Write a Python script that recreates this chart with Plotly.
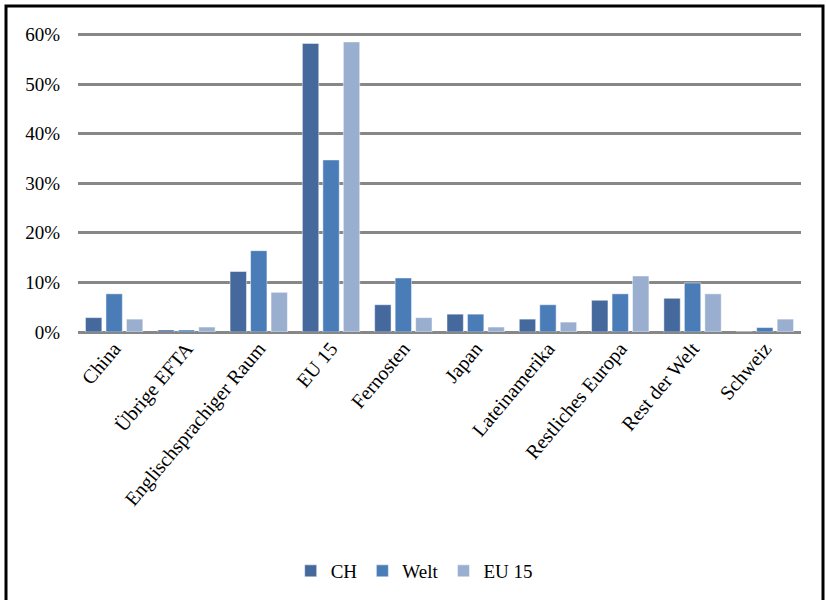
import plotly.graph_objects as go

categories = ["China", "Übrige EFTA", "Englischsprachiger Raum", "EU 15", "Fernosten",
              "Japan", "Lateinamerika", "Restliches Europa", "Rest der Welt", "Schweiz"]
ch = [2.9, 0.4, 12.2, 58.2, 5.5, 3.6, 2.6, 6.4, 6.8, 0.0]
welt = [7.7, 0.4, 16.4, 34.7, 10.9, 3.6, 5.5, 7.7, 9.9, 0.9]
eu15 = [2.6, 1.0, 8.0, 58.5, 2.9, 1.0, 2.0, 11.3, 7.7, 2.6]
y_ticks = [0, 10, 20, 30, 40, 50, 60]

series = [("CH", ch, "#45699C"), ("Welt", welt, "#4A7DB8"), ("EU 15", eu15, "#9AAFCF")]
SERIF = "Liberation Serif"

fig = go.Figure()
for name, vals, col in series:
    fig.add_trace(go.Bar(x=categories, y=vals, name=name,
                         marker=dict(color=col, line=dict(color="rgba(255,255,255,0.6)", width=0.8))))

W, H = 826, 600
L, R, T, B = 78, 801, 32, 333
fig.update_layout(
    width=W, height=H,
    margin=dict(l=L, r=W - R, t=T, b=H - B),
    paper_bgcolor="white", plot_bgcolor="white",
    barmode="group", bargap=0.15, bargroupgap=0.2,
    font=dict(family=SERIF, color="black", size=18),
    showlegend=True,
    legend=dict(orientation="h", x=0.465, xanchor="center", y=(B - 571) / (B - T), yanchor="middle",
                font=dict(size=19, family=SERIF), itemwidth=30, traceorder="normal"),
    xaxis=dict(tickangle=-50, tickfont=dict(size=20, family=SERIF),
               showgrid=False, showline=False, ticks=""),
    yaxis=dict(range=[0, 60.5], tickvals=y_ticks, ticktext=[f"{v}%" for v in y_ticks],
               showgrid=True, gridcolor="#878787", gridwidth=2.5, zeroline=True,
               zerolinecolor="#878787", zerolinewidth=2.5, ticks="", ticklabelstandoff=17,
               tickfont=dict(size=19, family=SERIF)),
)

def px_x(p):
    return (p - L) / (R - L)

def px_y(p):
    return (B - p) / (B - T)

fig.add_shape(type="path", xref="paper", yref="paper",
              path=f"M {px_x(6)} {px_y(610)} L {px_x(6)} {px_y(6)} L {px_x(823)} {px_y(6)} L {px_x(823)} {px_y(610)}",
              line=dict(color="black", width=3), layer="above")

fig.write_html("out.html")
